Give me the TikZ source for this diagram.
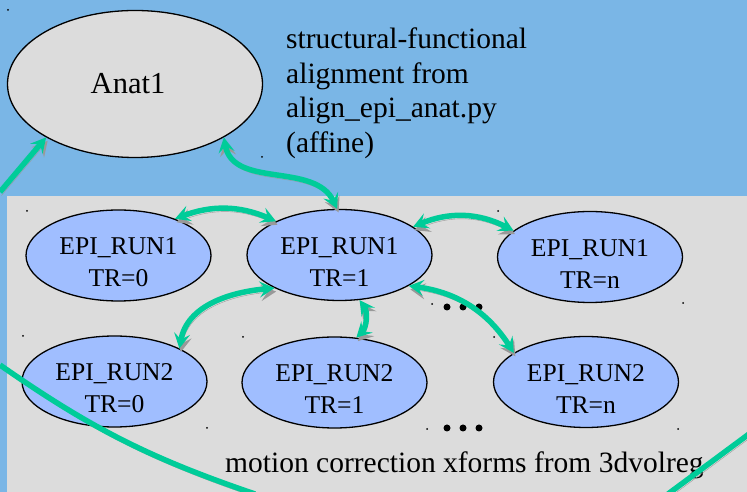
\documentclass[tikz,border=0pt]{standalone}
\usepackage{fontspec}
\setmainfont{Liberation Serif}
\usepackage{xcolor}
\usetikzlibrary{shapes.geometric,arrows.meta,positioning}

\definecolor{bgblue}{RGB}{122,182,230}
\definecolor{panelgray}{RGB}{220,220,220}
\definecolor{epiblue}{RGB}{160,190,255}
\definecolor{linkgreen}{RGB}{0,204,153}

\tikzset{
  anatnode/.style={ellipse, draw, line width=1.3pt, fill=panelgray, minimum width=255pt, minimum height=147pt, inner sep=0pt, font=\fontsize{30.5}{36}\selectfont},
  epinode/.style={ellipse, draw, line width=1.3pt, fill=epiblue, minimum width=185pt, minimum height=91pt, inner sep=0pt, align=center, font=\fontsize{25.6}{32}\selectfont},
  link/.style={draw=linkgreen, line width=5.5pt, >={Stealth[length=15pt,width=16pt,inset=6pt]}, preaction={draw=black!40, transform canvas={shift={(1.5pt,-3.5pt)}}}},
}
\newcommand{\lowtext}{\rule{0pt}{31pt}}

\begin{document}
\begin{tikzpicture}[x=1pt,y=1pt]
    % Background
    \fill[bgblue] (0,0) rectangle (747,492);
    \useasboundingbox (0,0) rectangle (747,492);
    \fill[panelgray] (7,0) rectangle (747,296);
    % Anatomy and EPI volumes
    \node[anatnode] (anat) at (135,408) {\hspace*{-14pt}Anat1};
    \node[epinode] (e1a) at (118.5,236.5) {\lowtext EPI\_RUN1\\TR=0};
    \node[epinode] (e1b) at (339.5,237) {\lowtext EPI\_RUN1\\TR=1};
    \node[epinode] (e1c) at (590,235) {\lowtext EPI\_RUN1\\TR=n};
    \node[epinode] (e2a) at (114.5,110.5) {\lowtext EPI\_RUN2\\TR=0};
    \node[epinode] (e2b) at (334.5,109.5) {\lowtext EPI\_RUN2\\TR=1};
    \node[epinode] (e2c) at (586,110) {\lowtext EPI\_RUN2\\TR=n};
    % Labels
    \node[anchor=north west, align=left, inner sep=0pt, font=\fontsize{29.5}{34.5}\selectfont] (note) at (286,464) {structural-functional\\alignment from\\align\_epi\_anat.py\\(affine)};
    \node[anchor=base west, inner sep=0pt, font=\fontsize{29.5}{34.5}\selectfont] (caption) at (225,19) {motion correction xforms from 3dvolreg};
    % Handles and ellipsis dots
    \foreach \p in {(8,482),(262,335),(27,281),(498,281),(683,189),(23,156),(243,155),(207,64),(432,188),(494,155),(427,63),(678,63)} {
        \fill \p circle (1pt);
    }
    \foreach \x in {447,463,479} {
        \fill (\x,185) circle (3.5pt);
        \fill (\x,64) circle (3.5pt);
    }
    % Alignment links
    \draw[link,<->] (anat.-31) to[out=-80,in=115] (e1b.93);
    \draw[link,<->] (e1a.33) to[bend left=22] (e1b.152);
    \draw[link,<->] (e1b.21) to[bend left=25] (e1c.161);
    \draw[link,<->] (e1b.207) to[out=185,in=80] (e2a.27);
    \draw[link,<->] (e1b.-66) to[bend left=40] (e2b.64);
    \draw[link,<->] (e1b.-24) to[bend left=25] (e2c.158);
    % Links leaving the picture
    \coordinate (inA) at (0,300);
    \coordinate (outA) at (0,127);
    \coordinate (outB) at (255,-2);
    \coordinate (outC) at (749,58);
    \coordinate (outD) at (668,-2);
    \draw[link,->] (inA) -- (anat.211);
    \draw[link] (outA) to[bend right=8] (outB);
    \draw[link] (outC) -- (outD);
\end{tikzpicture}
\end{document}
